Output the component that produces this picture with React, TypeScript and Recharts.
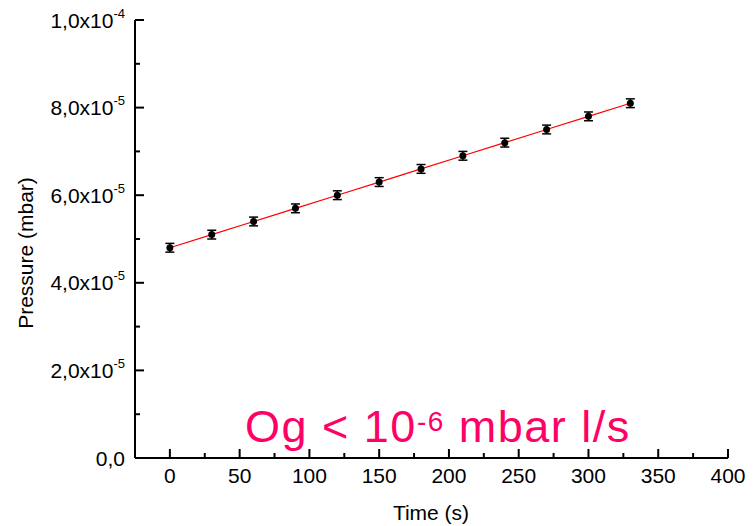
import React from 'react';
import { ComposedChart, XAxis, YAxis, Scatter, Line, ErrorBar } from 'recharts';

const times = [0, 30, 60, 90, 120, 150, 180, 210, 240, 270, 300, 330];
const pressures = [4.8e-5, 5.1e-5, 5.4e-5, 5.7e-5, 6.0e-5, 6.3e-5, 6.6e-5, 6.9e-5, 7.2e-5, 7.5e-5, 7.8e-5, 8.1e-5];
const errors = [1e-6, 1e-6, 1e-6, 1e-6, 1e-6, 1e-6, 1e-6, 1e-6, 1e-6, 1e-6, 1e-6, 1e-6];

const xTicks = [0, 25, 50, 75, 100, 125, 150, 175, 200, 225, 250, 275, 300, 325, 350, 375, 400];
const xMajor = [0, 50, 100, 150, 200, 250, 300, 350, 400];
const yTicks = [0, 1e-5, 2e-5, 3e-5, 4e-5, 5e-5, 6e-5, 7e-5, 8e-5, 9e-5, 1e-4];
const yMajorLabels: Record<string, [string, string]> = {
  '0': ['0,0', ''],
  '0.00002': ['2,0x10', '-5'],
  '0.00004': ['4,0x10', '-5'],
  '0.00006': ['6,0x10', '-5'],
  '0.00008': ['8,0x10', '-5'],
  '0.0001': ['1,0x10', '-4'],
};
const xTitle = 'Time (s)';
const yTitle = 'Pressure (mbar)';

const data = times.map((t, i) => ({ time: t, pressure: pressures[i], err: errors[i] }));

const FONT = '"Liberation Sans", Arial, sans-serif';
const MAJOR = 9;
const MINOR = 5;

const isMajorX = (v: number) => xMajor.includes(v);
const yKey = (v: number) => String(Number(v.toPrecision(3)));
const isMajorY = (v: number) => yKey(v) in yMajorLabels;

const BottomTick = (props: any) => {
  const { x, y, payload } = props;
  const v = payload.value;
  const major = isMajorX(v);
  return (
    <g>
      <line x1={x} x2={x} y1={y} y2={y - (major ? MAJOR : MINOR)} stroke="#000" strokeWidth={2} />
      {major && (
        <text x={x} y={y + 25} textAnchor="middle" fontFamily={FONT} fontSize={21} fill="#000">
          {v}
        </text>
      )}
    </g>
  );
};

const TopTick = (props: any) => {
  const { x, y, payload } = props;
  const major = isMajorX(payload.value);
  return <line x1={x} x2={x} y1={y} y2={y + (major ? MAJOR : MINOR)} stroke="#000" strokeWidth={2} />;
};

const LeftTick = (props: any) => {
  const { x, y, payload } = props;
  const v = payload.value;
  const major = isMajorY(v);
  const lab = yMajorLabels[yKey(v)];
  return (
    <g>
      <line x1={x} x2={x + (major ? MAJOR : MINOR)} y1={y} y2={y} stroke="#000" strokeWidth={2} />
      {major && lab && (
        <text x={x - 10} y={y + 7.5} textAnchor="end" fontFamily={FONT} fontSize={21} fill="#000">
          {lab[0]}
          {lab[1] && (
            <tspan dy={-10} fontSize={13}>
              {lab[1]}
            </tspan>
          )}
        </text>
      )}
    </g>
  );
};

const RightTick = (props: any) => {
  const { x, y, payload } = props;
  const major = isMajorY(payload.value);
  return <line x1={x} x2={x - (major ? MAJOR : MINOR)} y1={y} y2={y} stroke="#000" strokeWidth={2} />;
};

const Dot = (props: any) => {
  const { cx, cy } = props;
  return <circle cx={cx} cy={cy} r={3.5} fill="#000" />;
};

export default function App() {
  return (
    <div style={{ position: 'absolute', left: 0, top: 0, width: 755, height: 526, background: '#fff' }}>
      <ComposedChart
        width={755}
        height={526}
        data={data}
        margin={{ top: 20, right: 27, bottom: 0, left: 0 }}
      >
        <XAxis
          xAxisId="b"
          dataKey="time"
          type="number"
          domain={[-25, 400]}
          ticks={xTicks}
          interval={0}
          tickLine={false}
          tickSize={0}
          tickMargin={0}
          tick={<BottomTick />}
          height={68}
          axisLine={{ stroke: '#000', strokeWidth: 2 }}
          allowDataOverflow
        />
        <XAxis
          xAxisId="t"
          orientation="top"
          dataKey="time"
          type="number"
          domain={[-25, 400]}
          ticks={xTicks}
          interval={0}
          tickLine={false}
          tickSize={0}
          tickMargin={0}
          tick={<TopTick />}
          height={0}
          axisLine={{ stroke: '#000', strokeWidth: 2 }}
          allowDataOverflow
        />
        <YAxis
          yAxisId="l"
          type="number"
          domain={[0, 1e-4]}
          ticks={yTicks}
          interval={0}
          tickLine={false}
          tickSize={0}
          tickMargin={0}
          tick={<LeftTick />}
          width={135}
          axisLine={{ stroke: '#000', strokeWidth: 2 }}
          allowDataOverflow
        />
        <YAxis
          yAxisId="r"
          orientation="right"
          type="number"
          domain={[0, 1e-4]}
          ticks={yTicks}
          interval={0}
          tickLine={false}
          tickSize={0}
          tickMargin={0}
          tick={<RightTick />}
          width={0}
          axisLine={{ stroke: '#000', strokeWidth: 2 }}
          allowDataOverflow
        />
        <Scatter
          xAxisId="b"
          yAxisId="l"
          dataKey="pressure"
          shape={<Dot />}
          isAnimationActive={false}
        >
          <ErrorBar dataKey="err" direction="y" width={4.5} stroke="#000" strokeWidth={1.5} isAnimationActive={false} />
        </Scatter>
        <Line
          xAxisId="b"
          yAxisId="l"
          dataKey="pressure"
          type="linear"
          stroke="#ff0000"
          strokeWidth={1.2}
          dot={false}
          activeDot={false}
          isAnimationActive={false}
        />
      </ComposedChart>
      <svg
        width={755}
        height={526}
        style={{ position: 'absolute', left: 0, top: 0, pointerEvents: 'none' }}
      >
        <text x={431} y={520} textAnchor="middle" fontFamily={FONT} fontSize={21} fill="#000">
          {xTitle}
        </text>
        <text
          x={0}
          y={0}
          transform="translate(33 253) rotate(-90)"
          textAnchor="middle"
          fontFamily={FONT}
          fontSize={21}
          fill="#000"
        >
          {yTitle}
        </text>
        <text
          x={245}
          y={442}
          fontFamily={FONT}
          fontSize={45}
          fill="#ff0066"
          letterSpacing={1.5}
          style={{ whiteSpace: 'pre' }}
        >
          {'Og < 10'}
          <tspan dy={-11} fontSize={28}>
            {'-6'}
          </tspan>
          <tspan dy={11} fontSize={45}>
            {' mbar l/s'}
          </tspan>
        </text>
      </svg>
    </div>
  );
}
